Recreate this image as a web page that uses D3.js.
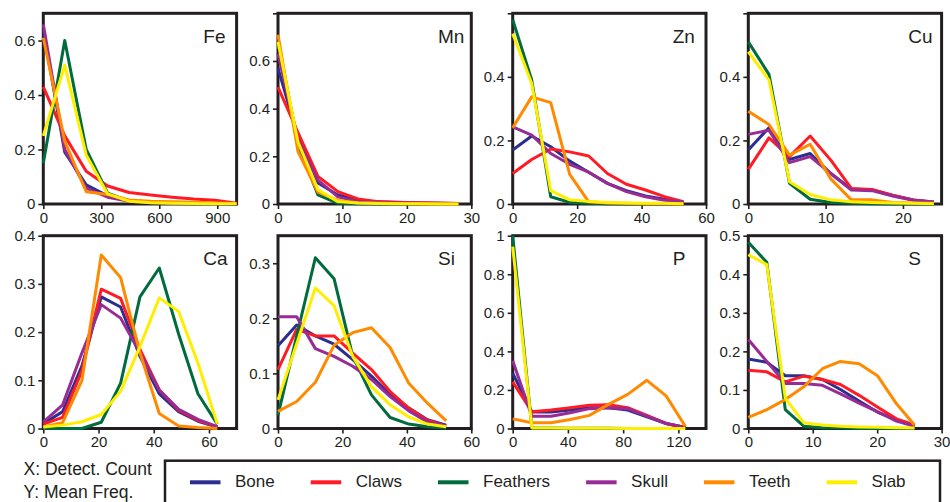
<!DOCTYPE html>
<html>
<head>
<meta charset="utf-8">
<script src="https://cdn.jsdelivr.net/npm/d3@7"></script>
<style>
  body { margin: 0; background: #fff; }
  svg { display: block; font-family: "Liberation Sans", Arial, sans-serif; }
</style>
</head>
<body>
<div class="container"></div>
<script>
// series (legend order, drawn in this order)
var seriesNames = ["Bone", "Claws", "Feathers", "Skull", "Teeth", "Slab"];
var seriesColors = ["#2b2e8f", "#ff1a24", "#006b3d", "#982b94", "#ff8a00", "#ffee00"];

// x bins per element
var feX = [0, 111, 222, 333, 444, 556, 667, 778, 889, 1000];
var mnX = [0, 3.1, 6.2, 9.3, 12.4, 15.6, 18.7, 21.8, 24.9, 28];
var znX = [0, 5.9, 11.8, 17.7, 23.6, 29.4, 35.3, 41.2, 47.1, 53];
var cuX = [0, 2.67, 5.33, 8, 10.67, 13.33, 16, 18.67, 21.33, 24];
var caX = [0, 7, 14, 21, 28, 35, 42, 49, 56, 63];
var siX = [0, 5.8, 11.6, 17.4, 23.2, 29, 34.8, 40.6, 46.4, 52.2];
var pX = [0, 13.9, 27.8, 41.7, 55.6, 69.4, 83.3, 97.2, 111.1, 125];
var sX = [0, 2.87, 5.74, 8.6, 11.5, 14.3, 17.2, 20.1, 23, 25.8];

// mean frequencies, one row per series (Bone, Claws, Feathers, Skull, Teeth, Slab)
var feY = [
  [0.64, 0.19, 0.07, 0.03, 0.012, 0.006, 0.004, 0.003, 0.002, 0.001],
  [0.43, 0.25, 0.12, 0.066, 0.042, 0.033, 0.025, 0.018, 0.014, 0.003],
  [0.15, 0.6, 0.2, 0.04, 0.01, 0.005, 0.002, 0.001, 0.001, 0],
  [0.66, 0.2, 0.058, 0.025, 0.01, 0.006, 0.004, 0.003, 0.002, 0.001],
  [0.61, 0.23, 0.045, 0.035, 0.015, 0.01, 0.008, 0.006, 0.004, 0.002],
  [0.25, 0.51, 0.18, 0.037, 0.01, 0.005, 0.003, 0.002, 0.001, 0.001]
];
var mnY = [
  [0.57, 0.28, 0.088, 0.038, 0.015, 0.008, 0.006, 0.004, 0.003, 0.002],
  [0.49, 0.3, 0.116, 0.052, 0.021, 0.01, 0.007, 0.005, 0.004, 0.002],
  [0.68, 0.25, 0.038, 0.003, 0.001, 0, 0, 0, 0, 0],
  [0.63, 0.27, 0.1, 0.03, 0.01, 0.006, 0.004, 0.003, 0.002, 0.001],
  [0.71, 0.22, 0.05, 0.015, 0.005, 0.003, 0.002, 0.001, 0.001, 0],
  [0.68, 0.26, 0.06, 0.01, 0.004, 0.002, 0.001, 0.001, 0, 0]
];
var znY = [
  [0.17, 0.214, 0.18, 0.135, 0.1, 0.065, 0.042, 0.025, 0.015, 0.005],
  [0.096, 0.14, 0.173, 0.164, 0.151, 0.096, 0.062, 0.044, 0.023, 0.007],
  [0.58, 0.39, 0.023, 0.005, 0.002, 0.001, 0, 0, 0, 0],
  [0.243, 0.217, 0.159, 0.125, 0.1, 0.065, 0.039, 0.023, 0.012, 0.007],
  [0.24, 0.337, 0.319, 0.093, 0.007, 0.003, 0.002, 0.001, 0.001, 0],
  [0.536, 0.379, 0.042, 0.013, 0.008, 0.005, 0.003, 0.002, 0.002, 0.001]
];
var cuY = [
  [0.17, 0.24, 0.14, 0.159, 0.096, 0.047, 0.044, 0.027, 0.013, 0.006],
  [0.109, 0.208, 0.149, 0.214, 0.138, 0.049, 0.046, 0.028, 0.013, 0.005],
  [0.51, 0.408, 0.065, 0.015, 0.005, 0.002, 0.001, 0, 0, 0],
  [0.219, 0.232, 0.13, 0.149, 0.096, 0.044, 0.042, 0.025, 0.012, 0.006],
  [0.292, 0.25, 0.154, 0.188, 0.079, 0.013, 0.013, 0.005, 0.003, 0.002],
  [0.479, 0.39, 0.07, 0.03, 0.013, 0.007, 0.005, 0.003, 0.002, 0.001]
];
var caY = [
  [0.01, 0.035, 0.13, 0.273, 0.252, 0.15, 0.072, 0.035, 0.015, 0.003],
  [0.009, 0.023, 0.12, 0.289, 0.27, 0.164, 0.08, 0.038, 0.017, 0.003],
  [0, 0, 0, 0.013, 0.094, 0.273, 0.333, 0.196, 0.072, 0.009],
  [0.013, 0.049, 0.157, 0.257, 0.229, 0.157, 0.08, 0.04, 0.019, 0.004],
  [0.003, 0.012, 0.1, 0.36, 0.313, 0.157, 0.031, 0.005, 0.002, 0],
  [0.003, 0.007, 0.014, 0.029, 0.077, 0.17, 0.271, 0.243, 0.136, 0.01]
];
var siY = [
  [0.15, 0.188, 0.168, 0.153, 0.125, 0.095, 0.061, 0.037, 0.016, 0.006],
  [0.107, 0.18, 0.168, 0.168, 0.137, 0.107, 0.067, 0.037, 0.015, 0.004],
  [0.024, 0.168, 0.31, 0.272, 0.131, 0.061, 0.02, 0.008, 0.003, 0.001],
  [0.203, 0.203, 0.145, 0.131, 0.113, 0.089, 0.058, 0.032, 0.012, 0.004],
  [0.031, 0.049, 0.084, 0.151, 0.174, 0.183, 0.147, 0.082, 0.046, 0.014],
  [0.052, 0.154, 0.255, 0.223, 0.131, 0.076, 0.043, 0.021, 0.008, 0.003]
];
var pY = [
  [0.287, 0.085, 0.085, 0.096, 0.108, 0.108, 0.096, 0.061, 0.026, 0.005],
  [0.242, 0.087, 0.096, 0.108, 0.12, 0.123, 0.108, 0.068, 0.026, 0.005],
  [1.0, 0.003, 0.002, 0.001, 0.001, 0.001, 0, 0, 0, 0],
  [0.351, 0.064, 0.064, 0.082, 0.103, 0.108, 0.103, 0.064, 0.026, 0.005],
  [0.05, 0.03, 0.03, 0.047, 0.068, 0.125, 0.177, 0.25, 0.169, 0.012],
  [0.943, 0.003, 0.002, 0.001, 0.001, 0.001, 0, 0, 0, 0]
];
var sY = [
  [0.18, 0.172, 0.137, 0.137, 0.127, 0.101, 0.071, 0.042, 0.023, 0.006],
  [0.151, 0.147, 0.121, 0.136, 0.127, 0.114, 0.086, 0.055, 0.025, 0.009],
  [0.483, 0.431, 0.049, 0.006, 0.002, 0.001, 0, 0, 0, 0],
  [0.231, 0.174, 0.117, 0.117, 0.112, 0.09, 0.066, 0.043, 0.019, 0.006],
  [0.029, 0.049, 0.075, 0.108, 0.155, 0.174, 0.168, 0.136, 0.064, 0.009],
  [0.451, 0.425, 0.079, 0.015, 0.009, 0.006, 0.004, 0.003, 0.002, 0.001]
];

// axis ticks per element
var xTickVals = {
  Fe: [0, 300, 600, 900], Mn: [0, 10, 20, 30], Zn: [0, 20, 40, 60], Cu: [0, 10, 20],
  Ca: [0, 20, 40, 60], Si: [0, 20, 40, 60], P: [0, 40, 80, 120], S: [0, 10, 20, 30]
};
var yTickVals = {
  Fe: [0, 0.2, 0.4, 0.6], Mn: [0, 0.2, 0.4, 0.6, 0.8], Zn: [0, 0.2, 0.4, 0.6], Cu: [0, 0.2, 0.4, 0.6],
  Ca: [0, 0.1, 0.2, 0.3, 0.4], Si: [0, 0.1, 0.2, 0.3], P: [0, 0.2, 0.4, 0.6, 0.8, 1], S: [0, 0.1, 0.2, 0.3, 0.4, 0.5]
};
// top ticks drawn without a label
var yUnlabelled = { Mn: 0.8, Zn: 0.6, Cu: 0.6 };

var panels = [
  { name: "Fe", xs: feX, ys: feY, xMax: 1000, yMax: 0.7 },
  { name: "Mn", xs: mnX, ys: mnY, xMax: 30, yMax: 0.8 },
  { name: "Zn", xs: znX, ys: znY, xMax: 60, yMax: 0.6 },
  { name: "Cu", xs: cuX, ys: cuY, xMax: 25, yMax: 0.6 },
  { name: "Ca", xs: caX, ys: caY, xMax: 70, yMax: 0.4 },
  { name: "Si", xs: siX, ys: siY, xMax: 60, yMax: 0.35 },
  { name: "P", xs: pX, ys: pY, xMax: 140, yMax: 1 },
  { name: "S", xs: sX, ys: sY, xMax: 30, yMax: 0.5 }
];

var width = 950;
var height = 502;
var colLeft = [43.3, 278, 512.7, 748.3];
var rowTop = [13.3, 235.7];
var panelW = 193.3;
var rowH = [190.7, 192.8];

var svg = d3
  .select(".container")
  .append("svg")
  .attr("width", width)
  .attr("height", height);

panels.forEach(function (p, i) {
  var col = i % 4;
  var row = Math.floor(i / 4);
  var h = rowH[row];

  var g = svg
    .append("g")
    .attr("transform", `translate(${colLeft[col]},${rowTop[row]})`);

  var x = d3.scaleLinear().domain([0, p.xMax]).range([0, panelW]);
  var y = d3.scaleLinear().domain([0, p.yMax]).range([h, 0]);

  var xAxis = g
    .append("g")
    .attr("transform", `translate(0,${h})`)
    .call(
      d3.axisBottom(x)
        .tickValues(xTickVals[p.name])
        .tickSize(5)
        .tickPadding(3)
        .tickFormat(d3.format("d"))
    );

  var yAxis = g.append("g").call(
    d3.axisLeft(y)
      .tickValues(yTickVals[p.name])
      .tickSize(5)
      .tickPadding(3)
      .tickFormat(function (d) {
        return yUnlabelled[p.name] === d ? "" : String(+d.toFixed(2));
      })
  );

  [xAxis, yAxis].forEach(function (a) {
    a.select(".domain").remove();
    a.selectAll(".tick line").attr("stroke", "#231f20").attr("stroke-width", 1.6);
    a.selectAll(".tick text")
      .attr("fill", "#231f20")
      .style("font-size", "15px")
      .style("font-family", "'Liberation Sans', Arial, sans-serif");
  });

  // frame
  g.append("rect")
    .attr("x", 0)
    .attr("y", 0)
    .attr("width", panelW)
    .attr("height", h)
    .attr("fill", "none")
    .attr("stroke", "#231f20")
    .attr("stroke-width", 3);

  var line = d3
    .line()
    .x(function (d) {
      return x(d[0]);
    })
    .y(function (d) {
      return y(d[1]);
    });

  p.ys.forEach(function (vals, s) {
    var pts = vals.map(function (v, k) {
      return [p.xs[k], v];
    });
    g.append("path")
      .attr("class", "link")
      .attr("d", line(pts))
      .attr("fill", "none")
      .attr("stroke", seriesColors[s])
      .attr("stroke-width", 3)
      .attr("stroke-linejoin", "round");
  });

  g.append("text")
    .attr("x", 160)
    .attr("y", 29.5)
    .attr("fill", "#231f20")
    .style("font-size", "19px")
    .text(p.name);
});

// axis note
svg.append("text")
  .attr("x", 23.5)
  .attr("y", 475)
  .attr("fill", "#231f20")
  .style("font-size", "17.5px")
  .text("X: Detect. Count");
svg.append("text")
  .attr("x", 23.5)
  .attr("y", 497.5)
  .attr("fill", "#231f20")
  .style("font-size", "17.5px")
  .text("Y: Mean Freq.");

// legend
svg.append("rect")
  .attr("x", 165)
  .attr("y", 460.7)
  .attr("width", 775)
  .attr("height", 60)
  .attr("fill", "none")
  .attr("stroke", "#231f20")
  .attr("stroke-width", 2.5);

var lx = 190;
seriesNames.forEach(function (name, s) {
  svg.append("line")
    .attr("x1", lx)
    .attr("x2", lx + 30.5)
    .attr("y1", 482.3)
    .attr("y2", 482.3)
    .attr("stroke", seriesColors[s])
    .attr("stroke-width", 4);
  var t = svg.append("text")
    .attr("x", lx + 45)
    .attr("y", 487)
    .attr("fill", "#231f20")
    .style("font-size", "17px")
    .text(name);
  lx = lx + 45 + t.node().getComputedTextLength() + 36;
});
</script>
</body>
</html>
